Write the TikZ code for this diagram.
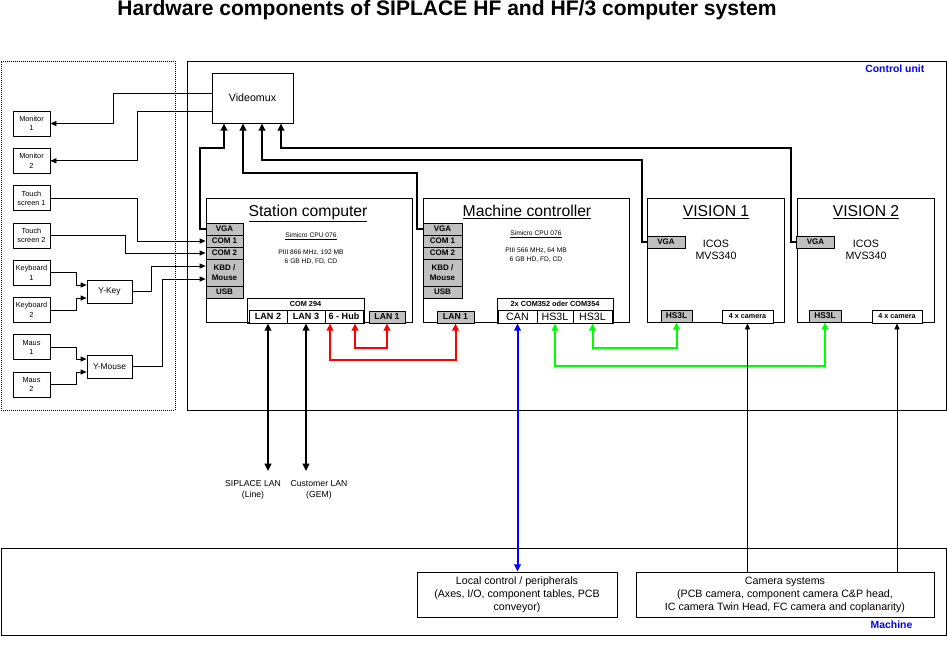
\documentclass[tikz,border=0pt]{standalone}
\usepackage{fontspec}
\setmainfont{Liberation Sans}
\usetikzlibrary{positioning,arrows.meta,calc}
\definecolor{portgray}{RGB}{192,192,192}
\definecolor{labelblue}{RGB}{0,0,255}
\definecolor{linkred}{RGB}{255,0,0}
\definecolor{linkgreen}{RGB}{0,255,0}
\definecolor{linkblue}{RGB}{0,0,255}
\newcommand{\fs}[2]{\fontsize{#1}{#2}\selectfont}
\tikzset{
    box/.style={draw, line width=0.6pt, inner sep=0pt, align=center},
    sz/.style 2 args={minimum width=#1*0.75pt, minimum height=#2*0.75pt},
    dev/.style={box, font=\fs{5.5}{7}},
    port/.style={box, fill=portgray, font=\bfseries\fs{6}{8}},
    subport/.style={box, fill=white, font=\bfseries\fs{6.8}{8}},
    pctitle/.style={font=\fs{11.8}{13}, anchor=base},
    spec/.style={font=\fs{5}{6.5}, align=center},
    areaname/.style={font=\bfseries\fs{7.8}{9}, text=labelblue, anchor=east},
    sig/.style={line width=0.6pt, -{Triangle[length=4.5pt,width=3.8pt]}},
    vid/.style={line width=1.5pt, -{Triangle[length=5.5pt,width=5pt]}},
    duplex/.style={line width=1.5pt, {Triangle[length=5.5pt,width=5pt]}-{Triangle[length=5.5pt,width=5pt]}}
}

\begin{document}
\begin{tikzpicture}[x=0.75pt, y=-0.75pt]
        \useasboundingbox (0,0) rectangle (947,668);

        % Titel und Bereiche
        \node[font=\bfseries\fs{15.8}{18}] (heading) at (447,10) {Hardware components of SIPLACE HF and HF/3 computer system};
        \node[box, dash pattern=on 0.75pt off 0.75pt, sz={174}{349}, anchor=north west] (periph) at (1,61) {};
        \node[box, line width=0.9pt, sz={759}{349}, anchor=north west] (ctrlunit) at (187,61) {};
        \node[box, sz={945}{87}, anchor=north west] (machine) at (1,548) {};
        \node[areaname] (culabel) at (929,69) {Control unit};
        \node[areaname] (malabel) at (917,625) {Machine};

        % Peripherie links
        \foreach \n/\t [count=\i from 0] in {mon1/{Monitor\\1}, mon2/{Monitor\\2}, tch1/{Touch\\screen 1}, tch2/{Touch\\screen 2},
                                             kbd1/{Keyboard\\1}, kbd2/{Keyboard\\2}, maus1/{Maus\\1}, maus2/{Maus\\2}}
            \node[dev, sz={37}{25}] (\n) at (31.5,{123.5+37.3*\i}) {\t};
        \node[dev, sz={45}{23}, font=\fs{6.3}{7}] (ykey) at (109.5,291.5) {Y-Key};
        \node[dev, sz={45}{23}, font=\fs{6.3}{7}] (ymouse) at (109.5,366.5) {Y-Mouse};
        \node[box, sz={81}{50}, font=\fs{8}{9}] (vmux) at (252.5,98) {Videomux};

        % Rechner
        \node[box, sz={206}{124}] (station) at (309,260) {};
        \node[box, sz={206}{124}] (mctrl) at (526,260) {};
        \node[box, sz={137}{124}] (vis1) at (715.5,260) {};
        \node[box, sz={137}{124}] (vis2) at (865.5,260) {};
        \node[pctitle] (sttitle) at (308,216) {\underline{Station computer}};
        \node[pctitle] (mctitle) at (527,216) {\underline{Machine controller}};
        \node[pctitle] (v1title) at (716,216) {\underline{VISION 1}};
        \node[pctitle] (v2title) at (866,216) {\underline{VISION 2}};

        \node[spec] (sccpu) at (311,236) {\underline{Simicro CPU 076}};
        \node[spec] (scspec) at (311,257) {PIII 866 MHz, 192 MB\\6 GB HD, FD, CD};
        \node[spec] (mccpu) at (536,234) {\underline{Simicro CPU 076}};
        \node[spec] (mcspec) at (536,255) {PIII 566 MHz, 64 MB\\6 GB HD, FD, CD};
        \node[font=\fs{8}{9}, align=center] (v1txt) at (716,250) {ICOS\\MVS340};
        \node[font=\fs{8}{9}, align=center] (v2txt) at (866,250) {ICOS\\MVS340};

        % Schnittstellen
        \foreach \pre/\x/\w in {sc/224.5/37, mc/442.5/39}
            \foreach \n/\t/\y/\h in {vga/VGA/229/12, com1/COM 1/241/12, com2/COM 2/253/12,
                                     kbd/{KBD /\\Mouse}/272.5/27, usb/USB/292/12}
                \node[port, sz={\w}{\h}] (\pre\n) at (\x,\y) {\t};

        \node[box, sz={117}{25}] (com294) at (305.5,310.5) {};
        \node[font=\bfseries\fs{5.5}{6}] (com294lbl) at (305.5,304) {COM 294};
        \node[subport, sz={38}{13}] (lan2) at (268,316.5) {LAN 2};
        \node[subport, sz={38}{13}] (lan3) at (306,316.5) {LAN 3};
        \node[subport, sz={38}{13}] (hub) at (344,316.5) {6 - Hub};
        \node[port, sz={36}{12}, font=\bfseries\fs{6.5}{7}] (sclan1) at (387,317) {LAN 1};
        \node[port, sz={37}{12}, font=\bfseries\fs{6.5}{7}] (mclan1) at (455.5,317) {LAN 1};

        \node[box, sz={116}{25}] (com352) at (555,310.5) {};
        \node[font=\bfseries\fs{5.5}{6}] (com352lbl) at (555,304) {2x COM352 oder COM354};
        \node[subport, sz={39}{13}, font=\fs{8}{9}] (can) at (517.5,316.5) {CAN};
        \node[subport, sz={36}{13}, font=\fs{8}{9}] (mchs1) at (555,316.5) {HS3L};
        \node[subport, sz={39}{13}, font=\fs{8}{9}] (mchs2) at (592.5,316.5) {HS3L};

        \node[port, sz={38}{12}] (v1vga) at (666,242) {VGA};
        \node[port, sz={38}{12}] (v2vga) at (815.5,242) {VGA};
        \node[port, sz={31}{12}, font=\bfseries\fs{6.3}{7}] (v1hs) at (676.5,316) {HS3L};
        \node[port, sz={32}{12}, font=\bfseries\fs{6.3}{7}] (v2hs) at (825,316) {HS3L};
        \node[subport, sz={51}{13}, font=\bfseries\fs{5.4}{6}] (v1cam) at (747.5,316.5) {4 x camera};
        \node[subport, sz={50}{13}, font=\bfseries\fs{5.4}{6}] (v2cam) at (897,316.5) {4 x camera};

        % Maschine
        \node[box, sz={200}{45}, font=\fs{8}{9.75}] (local) at (517,594.5) {Local control / peripherals\\(Axes, I/O, component tables, PCB\\conveyor)};
        \node[box, sz={298}{45}, font=\fs{8}{9.75}] (cams) at (785,594.5) {Camera systems\\(PCB camera, component camera C\&P head,\\IC camera Twin Head, FC camera and coplanarity)};

        \node[font=\fs{6.5}{8}, align=center] (siplan) at (253,490) {SIPLACE LAN\\(Line)};
        \node[font=\fs{6.5}{8}, align=center] (custlan) at (319,490) {Customer LAN\\(GEM)};
        \coordinate (siplend) at (268,471);
        \coordinate (custend) at (306,471);

        % Verbindungen Peripherie
        \draw[sig] (vmux.west |- 0,93) -- (113,93) |- (mon1);
        \draw[sig] (vmux.west |- 0,111) -- (137,111) |- (mon2);
        \draw[sig] (tch1) -| (137,0 |- sccom1) -- (sccom1);
        \draw[sig] (tch2) -| (125,0 |- sccom2) -- (sccom2);
        \draw[sig] (kbd1) -| (76,285) -- (ykey.west |- 0,285);
        \draw[sig] (kbd2) -| (76,298) -- (ykey.west |- 0,298);
        \draw[sig] (maus1) -| (76,359) -- (ymouse.west |- 0,359);
        \draw[sig] (maus2) -| (76,372) -- (ymouse.west |- 0,372);
        \draw[sig] (ykey) -| (151,266) -- (sckbd.west |- 0,266);
        \draw[sig] (ymouse) -| (162,279) -- (sckbd.west |- 0,279);

        % VGA zum Videomux
        \draw[vid] (scvga.west) -- (200,0 |- scvga) |- (224,148) -- (224,0 |- vmux.south);
        \draw[vid] (mcvga.west) -- (417,0 |- mcvga) |- (243,173) -- (243,0 |- vmux.south);
        \draw[vid] (v1vga.west) -- (642,0 |- v1vga) |- (262,160) -- (262,0 |- vmux.south);
        \draw[vid] (v2vga.west) -- (791,0 |- v2vga) |- (281,148) -- (281,0 |- vmux.south);

        % Netzwerk und Bus
        \draw[duplex] (lan2) -- (siplend);
        \draw[duplex] (lan3) -- (custend);
        \draw[duplex, linkred] (hub.south -| 355,0) -- (355,348) -| (sclan1);
        \draw[duplex, linkred] (hub.south -| 330,0) -- (330,360) -| (mclan1);
        \draw[duplex, linkblue] (can) -- (can |- local.north);
        \draw[duplex, linkgreen] (mchs1) -- (mchs1 |- 0,366) -| (v2hs);
        \draw[duplex, linkgreen] (mchs2) -- (mchs2 |- 0,348) -| (v1hs);
        \draw[sig] (v1cam |- cams.north) -- (v1cam);
        \draw[sig] (v2cam |- cams.north) -- (v2cam);
    \end{tikzpicture}
\end{document}
